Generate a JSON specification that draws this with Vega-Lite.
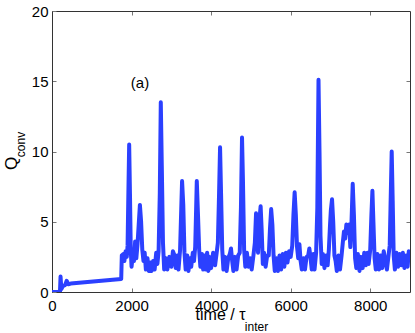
{
  "$schema": "https://vega.github.io/schema/vega-lite/v6.json",
  "width": 358,
  "height": 281,
  "autosize": {"type": "none"},
  "padding": {"left": 52, "top": 11, "right": 5, "bottom": 41},
  "config": {
    "view": {"stroke": null},
    "font": "Liberation Sans",
    "axis": {
      "grid": false,
      "labelFont": "Liberation Sans",
      "titleFont": "Liberation Sans",
      "labelColor": "#000000",
      "titleColor": "#000000",
      "domainColor": "#333333",
      "tickColor": "#777777",
      "titleFontWeight": "normal",
      "labelFlush": false
    }
  },
  "datasets": {
    "q": [
      {"t":0,"q":0},{"t":200,"q":0},{"t":215,"q":1.1},{"t":235,"q":0.2},{"t":270,"q":0.4},{"t":330,"q":0.5},{"t":370,"q":0.8},{"t":410,"q":0.55},{"t":470,"q":0.6},{"t":1740,"q":0.93},
      {"t":1755,"q":2.6},{"t":1790,"q":2.7},{"t":1820,"q":2.2},{"t":1850,"q":2.9},{"t":1880,"q":2.5},{"t":1900,"q":3.3},{"t":1920,"q":7},{"t":1940,"q":10.5},{"t":1960,"q":7},{"t":1980,"q":3},
      {"t":2000,"q":1.8},{"t":2030,"q":2.6},{"t":2060,"q":2.2},{"t":2090,"q":3.6},{"t":2120,"q":2.4},{"t":2150,"q":3.4},{"t":2180,"q":4.8},{"t":2210,"q":6.2},{"t":2240,"q":5},{"t":2270,"q":3},
      {"t":2300,"q":2.2},{"t":2330,"q":2.8},{"t":2360,"q":1.6},{"t":2400,"q":2.4},{"t":2430,"q":1.5},{"t":2470,"q":2.1},{"t":2500,"q":1.5},{"t":2540,"q":2.2},{"t":2580,"q":1.6},{"t":2620,"q":2.8},
      {"t":2650,"q":2.0},{"t":2680,"q":2.9},{"t":2710,"q":7},{"t":2735,"q":13.5},{"t":2760,"q":9},{"t":2790,"q":3.5},{"t":2820,"q":1.6},{"t":2860,"q":2.4},{"t":2900,"q":1.6},{"t":2950,"q":2.5},
      {"t":3000,"q":1.8},{"t":3040,"q":2.9},{"t":3080,"q":2.6},{"t":3110,"q":1.7},{"t":3150,"q":2.6},{"t":3180,"q":1.6},{"t":3220,"q":3},{"t":3250,"q":6},{"t":3270,"q":7.9},{"t":3300,"q":6.2},
      {"t":3330,"q":2.8},{"t":3360,"q":1.6},{"t":3400,"q":2.6},{"t":3430,"q":1.5},{"t":3470,"q":2.4},{"t":3500,"q":1.8},{"t":3540,"q":2.8},{"t":3570,"q":2.2},{"t":3600,"q":3.2},{"t":3620,"q":5.5},
      {"t":3640,"q":7.9},{"t":3670,"q":5.5},{"t":3700,"q":3},{"t":3730,"q":1.8},{"t":3770,"q":2.7},{"t":3800,"q":1.6},{"t":3840,"q":2.6},{"t":3870,"q":1.6},{"t":3900,"q":2.8},{"t":3930,"q":1.5},
      {"t":3960,"q":2.5},{"t":4000,"q":1.7},{"t":4050,"q":2.8},{"t":4100,"q":1.9},{"t":4140,"q":2.8},{"t":4170,"q":3.5},{"t":4200,"q":7},{"t":4225,"q":10.3},{"t":4250,"q":7},{"t":4280,"q":3},
      {"t":4310,"q":1.6},{"t":4350,"q":2.5},{"t":4390,"q":1.5},{"t":4430,"q":2.4},{"t":4470,"q":2.7},{"t":4500,"q":3.1},{"t":4530,"q":2.2},{"t":4560,"q":1.5},{"t":4600,"q":2.5},{"t":4640,"q":1.6},
      {"t":4680,"q":2.6},{"t":4720,"q":2.8},{"t":4750,"q":6},{"t":4777,"q":11},{"t":4800,"q":8},{"t":4830,"q":3},{"t":4860,"q":1.8},{"t":4900,"q":2.8},{"t":4940,"q":1.8},{"t":4980,"q":2.4},
      {"t":5020,"q":1.6},{"t":5060,"q":2.5},{"t":5100,"q":3.5},{"t":5130,"q":5.6},{"t":5150,"q":4.5},{"t":5180,"q":2.8},{"t":5210,"q":5},{"t":5245,"q":6.1},{"t":5270,"q":4.5},{"t":5300,"q":2},
      {"t":5330,"q":2.8},{"t":5370,"q":1.8},{"t":5410,"q":2.6},{"t":5450,"q":2.6},{"t":5480,"q":4.5},{"t":5510,"q":5.9},{"t":5540,"q":4.8},{"t":5570,"q":2.6},{"t":5600,"q":1.5},{"t":5640,"q":2.4},
      {"t":5680,"q":1.5},{"t":5720,"q":2.6},{"t":5760,"q":1.6},{"t":5800,"q":2.7},{"t":5840,"q":1.8},{"t":5880,"q":2.8},{"t":5920,"q":2.1},{"t":5960,"q":2.9},{"t":6000,"q":2.5},{"t":6040,"q":3.3},
      {"t":6070,"q":5.5},{"t":6100,"q":7.1},{"t":6130,"q":5.5},{"t":6160,"q":3.2},{"t":6190,"q":2.4},{"t":6220,"q":3.4},{"t":6250,"q":2.2},{"t":6280,"q":1.6},{"t":6320,"q":2.4},{"t":6360,"q":1.6},
      {"t":6400,"q":2.5},{"t":6440,"q":2.6},{"t":6470,"q":3.1},{"t":6500,"q":2.4},{"t":6530,"q":1.6},{"t":6570,"q":2.7},{"t":6600,"q":1.6},{"t":6640,"q":2.8},{"t":6670,"q":6},{"t":6700,"q":15.1},
      {"t":6725,"q":10},{"t":6750,"q":4},{"t":6780,"q":2.0},{"t":6810,"q":2.7},{"t":6850,"q":1.7},{"t":6890,"q":2.6},{"t":6930,"q":1.9},{"t":6960,"q":3},{"t":6990,"q":4.8},{"t":7010,"q":5.8},
      {"t":7040,"q":6.6},{"t":7070,"q":5},{"t":7100,"q":2.6},{"t":7130,"q":2.2},{"t":7160,"q":1.5},{"t":7200,"q":2.6},{"t":7240,"q":1.6},{"t":7280,"q":2.6},{"t":7310,"q":3.5},{"t":7340,"q":4.3},
      {"t":7370,"q":3.8},{"t":7400,"q":4.8},{"t":7430,"q":4.2},{"t":7470,"q":4.8},{"t":7500,"q":3.2},{"t":7530,"q":5},{"t":7560,"q":7.7},{"t":7590,"q":5.5},{"t":7620,"q":2.4},{"t":7650,"q":1.7},
      {"t":7690,"q":2.7},{"t":7730,"q":1.5},{"t":7770,"q":2.5},{"t":7810,"q":1.7},{"t":7850,"q":2.8},{"t":7890,"q":1.9},{"t":7930,"q":2.8},{"t":7960,"q":2},{"t":8000,"q":3},{"t":8030,"q":5.5},
      {"t":8055,"q":7.2},{"t":8080,"q":5},{"t":8110,"q":2.4},{"t":8140,"q":1.6},{"t":8180,"q":2.7},{"t":8220,"q":1.6},{"t":8260,"q":2.6},{"t":8300,"q":1.7},{"t":8340,"q":2.9},{"t":8380,"q":2.2},
      {"t":8420,"q":1.6},{"t":8460,"q":2.6},{"t":8490,"q":3.3},{"t":8510,"q":6},{"t":8540,"q":10},{"t":8565,"q":6.5},{"t":8590,"q":2.6},{"t":8620,"q":1.6},{"t":8660,"q":2.8},{"t":8700,"q":1.8},
      {"t":8740,"q":2.7},{"t":8780,"q":1.9},{"t":8820,"q":2.8},{"t":8860,"q":1.7},{"t":8900,"q":2.6},{"t":8940,"q":1.8},{"t":8970,"q":2.9},{"t":9000,"q":2.8}
    ],
    "ann": [{"t": 2212, "q": 14.9, "label": "(a)"}]
  },
  "layer": [
    {
      "data": {"name": "q"},
      "mark": {"type": "line", "color": "#2b40ff", "strokeWidth": 4, "strokeJoin": "round", "strokeCap": "round", "clip": true},
      "encoding": {
        "x": {"field": "t", "type": "quantitative", "scale": {"domain": [0, 9000], "nice": false},
          "axis": {"orient": "bottom", "values": [0, 2000, 4000, 6000, 8000], "format": "d", "tickSize": -4, "labelFontSize": 15, "labelPadding": 10,
            "title": "time / τ", "titleFontSize": 16, "titleX": 168, "titleY": 22, "titleAlign": "center", "titleBaseline": "middle"}},
        "y": {"field": "q", "type": "quantitative", "scale": {"domain": [0, 20], "nice": false},
          "axis": {"orient": "left", "values": [0, 5, 10, 15, 20], "format": "d", "tickSize": -4, "labelFontSize": 15, "labelPadding": 8,
            "title": "Q", "titleFontSize": 17, "titleX": -41, "titleY": 152, "titleAngle": -90, "titleAlign": "center", "titleBaseline": "middle"}}
      }
    },
    {
      "data": {"name": "ann"},
      "mark": {"type": "text", "fontSize": 15, "font": "Liberation Sans", "color": "#000000"},
      "encoding": {
        "x": {"field": "t", "type": "quantitative", "scale": {"domain": [0, 9000], "nice": false},
          "axis": {"orient": "top", "values": [2000, 4000, 6000, 8000], "labels": false, "tickSize": -4, "title": null}},
        "y": {"field": "q", "type": "quantitative", "scale": {"domain": [0, 20], "nice": false},
          "axis": {"orient": "right", "values": [5, 10, 15], "labels": false, "tickSize": -4, "title": null}},
        "text": {"field": "label"}
      }
    },
    {
      "data": {"name": "ann"},
      "mark": {"type": "point", "opacity": 0},
      "encoding": {
        "x": {"field": "t", "type": "quantitative", "scale": {"domain": [0, 9000], "nice": false},
          "axis": {"orient": "bottom", "domain": false, "ticks": false, "labels": false,
            "title": "inter", "titleFontSize": 12, "titleX": 204, "titleY": 34, "titleAlign": "center", "titleBaseline": "middle"}},
        "y": {"field": "q", "type": "quantitative", "scale": {"domain": [0, 20], "nice": false},
          "axis": {"orient": "left", "domain": false, "ticks": false, "labels": false,
            "title": "conv", "titleFontSize": 12, "titleX": -32, "titleY": 133, "titleAngle": -90, "titleAlign": "center", "titleBaseline": "middle"}}
      }
    }
  ],
  "resolve": {"axis": {"x": "independent", "y": "independent"}}
}
